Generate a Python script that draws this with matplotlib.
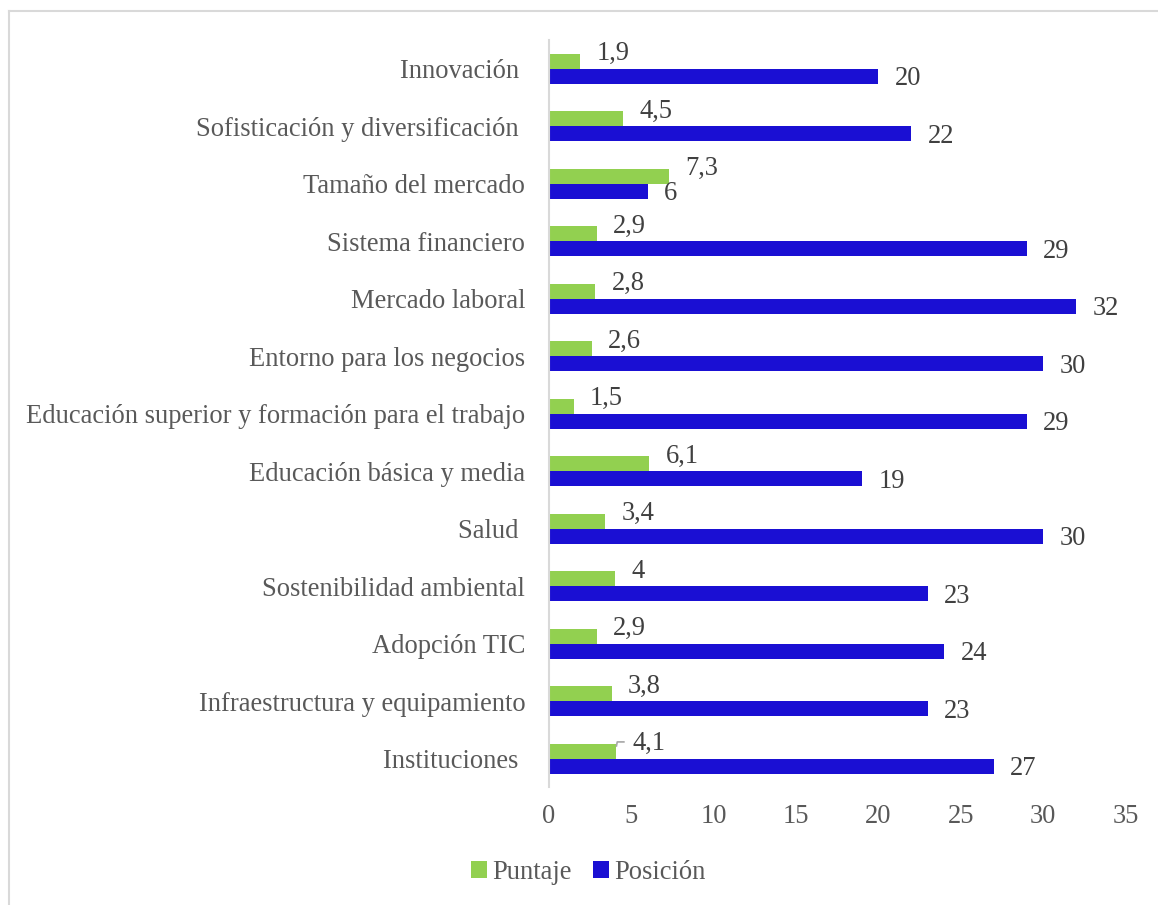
import numpy as np
import matplotlib.pyplot as plt
from matplotlib.lines import Line2D

# pilares, de arriba hacia abajo
pilares = ["Innovación ", "Sofisticación y diversificación ", "Tamaño del mercado",
           "Sistema financiero", "Mercado laboral", "Entorno para los negocios",
           "Educación superior y formación para el trabajo", "Educación básica y media",
           "Salud ", "Sostenibilidad ambiental", "Adopción TIC",
           "Infraestructura y equipamiento", "Instituciones "]
puntaje = [1.9, 4.5, 7.3, 2.9, 2.8, 2.6, 1.5, 6.1, 3.4, 4.0, 2.9, 3.8, 4.1]
posicion = [20, 22, 6, 29, 32, 30, 29, 19, 30, 23, 24, 23, 27]

verde = "#92D050"
azul = "#1A0FD3"
gris_txt = "#404040"
fs = 19.1

plt.rcParams['font.family'] = ['Liberation Serif', 'DejaVu Serif']

fig = plt.figure(figsize=(11.58, 9.05), dpi=100)
ax = fig.add_axes([0.474, 0.130, 0.498, 0.826])

y = np.arange(len(pilares))[::-1]
h = 0.26
ax.barh(y + h / 2, puntaje, height=h, color=verde, label="Puntaje")
ax.barh(y - h / 2, posicion, height=h, color=azul, label="Posición")

def fmt(v):
    s = ("%.1f" % v).rstrip("0").rstrip(".")
    return s.replace(".", ",")

for yi, p, q in zip(y, puntaje, posicion):
    if fmt(p) == "4,1":
        ax.plot([p, p + 0.05, p + 0.45], [yi + 0.22, yi + 0.29, yi + 0.29],
                color="#A6A6A6", lw=1.2)
    ax.text(p + 1.0, yi + 0.26, fmt(p), ha="left", va="center", fontsize=fs, color=gris_txt)
    ax.text(q + 1.0, yi - 0.18, fmt(q), ha="left", va="center", fontsize=fs, color=gris_txt)

ax.set_xlim(0, 35)
ax.set_ylim(-0.5, len(pilares) - 0.5)
ax.set_xticks(np.arange(0, 36, 5))
ax.set_yticks(y)
ax.set_yticklabels(pilares)
ax.tick_params(axis="both", length=0, labelsize=fs, labelcolor="#595959")
ax.tick_params(axis="x", pad=12)
ax.tick_params(axis="y", pad=17)
for s in ["top", "right", "bottom"]:
    ax.spines[s].set_visible(False)
ax.spines["left"].set_color("#D9D9D9")
ax.spines["left"].set_linewidth(1.5)

fig.legend(loc="center", bbox_to_anchor=(0.508, 0.036), ncol=2, frameon=False,
           fontsize=fs, labelcolor="#595959", handlelength=0.6, handleheight=0.6,
           handletextpad=0.2, columnspacing=0.8)

# marco exterior (solo arriba e izquierda visibles)
x0 = 8.5 / 1158
y0 = 1 - 11.5 / 905
fig.add_artist(Line2D([x0, 1], [y0, y0], transform=fig.transFigure, color="#D9D9D9", lw=1.5))
fig.add_artist(Line2D([x0, x0], [0, y0], transform=fig.transFigure, color="#D9D9D9", lw=1.5))

fig.savefig("out.png", dpi=100)
